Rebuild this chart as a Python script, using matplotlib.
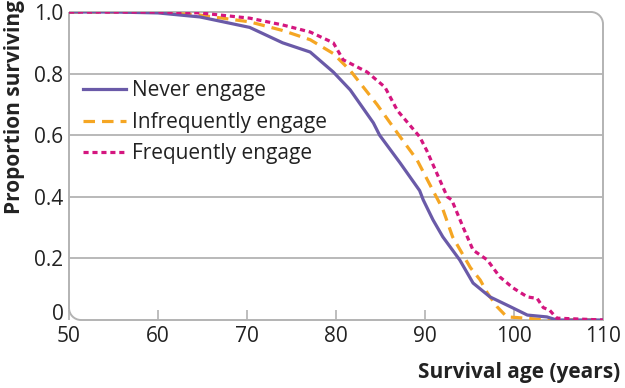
import matplotlib
matplotlib.use("Agg")
import matplotlib.pyplot as plt
import matplotlib.transforms as mtransforms
from matplotlib.path import Path
from matplotlib.patches import PathPatch

plt.rcParams['font.family'] = ['Open Sans', 'DejaVu Sans']

# survival curves (age in years, proportion surviving)
never_age = [50, 55, 60, 64.7, 70.3, 74.0, 77.1, 79.7, 81.6, 84.2, 84.9, 87.2, 89.4,
             89.8, 90.9, 92.0, 93.9, 95.4, 97.3, 99.6, 101.5, 103.7, 104.8, 110]
never_surv = [1.0, 1.0, 0.997, 0.984, 0.95, 0.90, 0.87, 0.805, 0.747, 0.64, 0.60, 0.51, 0.42,
              0.39, 0.325, 0.27, 0.195, 0.12, 0.075, 0.043, 0.016, 0.01, 0.0, 0.0]

infreq_age = [50, 55, 60, 64.7, 70.3, 74.0, 77.1, 79.7, 81.6, 84.6, 87.2, 89.1, 90.9,
              92.0, 93.1, 95.1, 96.2, 97.0, 98.1, 99.2, 100.3, 103.8, 110]
infreq_surv = [1.0, 1.0, 0.999, 0.99, 0.968, 0.94, 0.91, 0.865, 0.81, 0.70, 0.595, 0.52, 0.42,
               0.36, 0.27, 0.17, 0.13, 0.088, 0.043, 0.01, 0.008, 0.0, 0.0]

freq_age = [50, 55, 60, 64.7, 70.3, 74.0, 77.1, 79.7, 80.8, 83.5, 85.5, 86.9, 89.4, 90.2,
            92.5, 93.0, 94.3, 95.4, 97.0, 98.4, 99.9, 101.5, 102.6, 103.3, 104.0, 104.8, 110]
freq_surv = [1.0, 1.0, 1.0, 0.997, 0.98, 0.958, 0.935, 0.90, 0.845, 0.805, 0.756, 0.68, 0.595, 0.55,
             0.40, 0.39, 0.30, 0.227, 0.195, 0.14, 0.104, 0.075, 0.07, 0.04, 0.032, 0.006, 0.0]

labels = ['Never engage', 'Infrequently engage', 'Frequently engage']
colors = ['#6a5aa8', '#f5a623', '#d4167f']

x_ticks = [50, 60, 70, 80, 90, 100, 110]
y_ticks = [0, 0.2, 0.4, 0.6, 0.8, 1.0]
y_ticklabels = ['0', '0.2', '0.4', '0.6', '0.8', '1.0']

fig = plt.figure(figsize=(6.25, 3.88), dpi=100)
ax = fig.add_axes([69 / 625, 1 - 320 / 388, 534 / 625, 308 / 388])

grid_col = '#b3b3b3'
txt_col = '#222222'
fs = 15

for y in y_ticks[1:-1]:
    ax.axhline(y, color=grid_col, lw=1.3, zorder=1)

ax.plot(never_age, never_surv, color=colors[0], lw=2.3, label=labels[0],
        solid_joinstyle='round', zorder=4)
ax.plot(infreq_age, infreq_surv, color=colors[1], lw=2.3, label=labels[1],
        dashes=(3.6, 2.2), zorder=3)
ax.plot(freq_age, freq_surv, color=colors[2], lw=2.3, label=labels[2],
        dashes=(1.6, 1.2), zorder=5)

ax.set_xlim(50, 110)
ax.set_ylim(0, 1.0)
for s in ax.spines.values():
    s.set_visible(False)

# frame with rounded top-right and bottom-left corners
rx, ry = 12 / 534, 12 / 308
k = 0.55
verts = [(0, 1), (1 - rx, 1),
         (1 - rx + k * rx, 1), (1, 1 - ry + k * ry), (1, 1 - ry),
         (1, 0), (rx, 0),
         (rx - k * rx, 0), (0, ry - k * ry), (0, ry),
         (0, 1)]
codes = [Path.MOVETO, Path.LINETO,
         Path.CURVE4, Path.CURVE4, Path.CURVE4,
         Path.LINETO, Path.LINETO,
         Path.CURVE4, Path.CURVE4, Path.CURVE4,
         Path.LINETO]
frame = PathPatch(Path(verts, codes), transform=ax.transAxes, fill=False,
                  edgecolor=grid_col, lw=1.4, clip_on=False, zorder=2)
ax.add_patch(frame)

ax.set_xticks(x_ticks)
ax.set_yticks(y_ticks)
ax.set_yticklabels(y_ticklabels)
ax.tick_params(axis='x', direction='in', length=7, width=1.2, color=grid_col,
               labelsize=fs, pad=4, labelcolor=txt_col)
ax.tick_params(axis='y', length=0, labelsize=fs, pad=4, labelcolor=txt_col)
for t in ax.xaxis.get_major_ticks():
    if t.get_loc() in (50, 110):
        t.tick1line.set_visible(False)

# lift the "0" label a little so it clears the "50"
zero_lbl = ax.yaxis.get_major_ticks()[0].label1
zero_lbl.set_transform(zero_lbl.get_transform() +
                       mtransforms.ScaledTranslation(0, 6 / 72, fig.dpi_scale_trans))

ax.set_ylabel('Proportion surviving', fontsize=fs, fontweight='bold', color=txt_col)
ax.yaxis.set_label_coords(-0.082, 0.69)
ax.set_xlabel('Survival age (years)', fontsize=fs, fontweight='bold', color=txt_col)
ax.xaxis.set_label_coords(1.032, -0.135)
ax.xaxis.label.set_horizontalalignment('right')

leg = ax.legend(loc='upper left', bbox_to_anchor=(0.01, 0.805), frameon=False,
                fontsize=fs, handlelength=2.1, handletextpad=0.25,
                labelspacing=0.5, borderaxespad=0)
for txt in leg.get_texts():
    txt.set_color(txt_col)

fig.savefig('out.png', dpi=100)
